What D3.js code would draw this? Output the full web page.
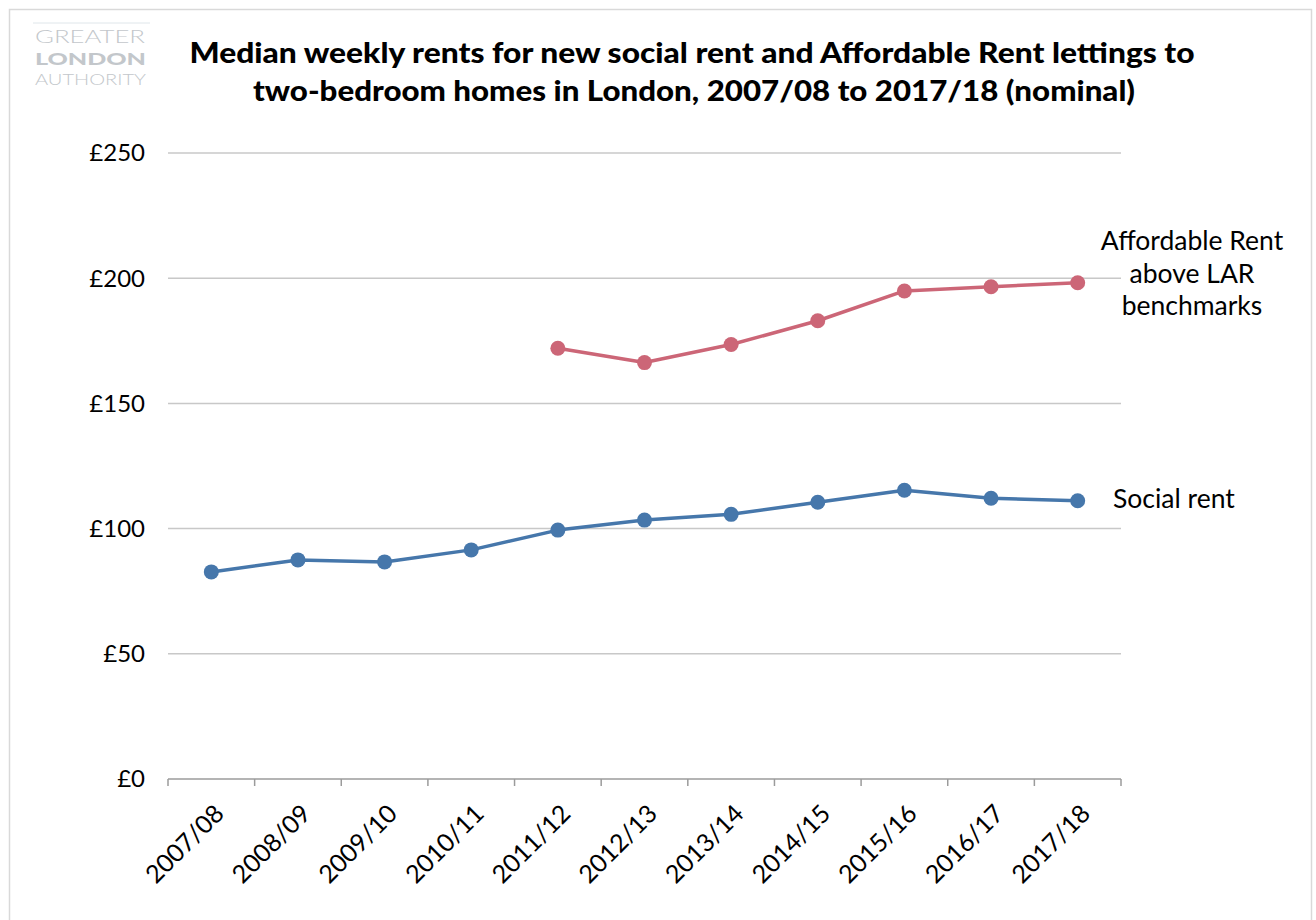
<!DOCTYPE html>
<html>
<head>
<meta charset="utf-8">
<script src="https://cdn.jsdelivr.net/npm/d3@7"></script>
<style>
  body { margin: 0; background: #fff; }
  svg { display: block; }
</style>
</head>
<body>
<svg id="chart"></svg>
<script>
// Median weekly rents, two-bedroom homes, London (nominal)

const YEARS = ["2007/08", "2008/09", "2009/10", "2010/11", "2011/12", "2012/13",
               "2013/14", "2014/15", "2015/16", "2016/17", "2017/18"];
const SOCIAL_RENT = [82.7, 87.5, 86.7, 91.5, 99.4, 103.4, 105.7, 110.5, 115.3, 112.1, 111.1];
const AFFORDABLE_RENT = [null, null, null, null, 172.0, 166.3, 173.5, 183.0, 194.9, 196.6, 198.2];
const Y_TICKS = [0, 50, 100, 150, 200, 250];

const WIDTH = 1316;
const HEIGHT = 920;
const FONT = "Lato, 'Open Sans', sans-serif";

const margin = { left: 168, right: 195, top: 153, bottom: 141 };

const svg = d3.select("#chart")
    .attr("width", WIDTH)
    .attr("height", HEIGHT);

// outer frame
svg.append("rect")
    .attr("x", 9.5).attr("y", 9.5)
    .attr("width", WIDTH - 14).attr("height", HEIGHT)
    .attr("fill", "none")
    .attr("stroke", "#d9d9d9")
    .attr("stroke-width", 1.5);

// logo
const logo = svg.append("g").attr("font-family", FONT).attr("fill", "#c3c7cb");
logo.append("line")
    .attr("x1", 33).attr("x2", 150).attr("y1", 23).attr("y2", 23)
    .attr("stroke", "#dfe6ea").attr("stroke-width", 1);
const logoLines = [
    { text: "GREATER", y: 43, size: 16, weight: 300, len: 110 },
    { text: "LONDON", y: 65, size: 16, weight: 900, len: 111 },
    { text: "AUTHORITY", y: 85, size: 14.5, weight: 300, len: 111 }
];
logoLines.forEach(l => {
    logo.append("text").attr("x", 35).attr("y", l.y)
        .attr("font-size", l.size + "px").attr("font-weight", l.weight)
        .attr("textLength", l.len).attr("lengthAdjust", "spacingAndGlyphs")
        .attr("transform", `translate(0,${l.y}) scale(1,1.1) translate(0,${-l.y})`)
        .text(l.text);
});

// title
const title = svg.append("text")
    .attr("text-anchor", "middle")
    .attr("font-family", FONT)
    .attr("font-weight", 900)
    .attr("font-size", "28px")
    .attr("fill", "#000");
title.append("tspan").attr("x", 692).attr("y", 63)
    .attr("textLength", 1005).attr("lengthAdjust", "spacingAndGlyphs")
    .text("Median weekly rents for new social rent and Affordable Rent lettings to");
title.append("tspan").attr("x", 694).attr("y", 101)
    .attr("textLength", 882).attr("lengthAdjust", "spacingAndGlyphs")
    .text("two-bedroom homes in London, 2007/08  to 2017/18  (nominal)");

const x = d3.scaleBand()
    .domain(YEARS)
    .range([margin.left, WIDTH - margin.right])
    .paddingInner(0)
    .paddingOuter(0);

const y = d3.scaleLinear()
    .domain([0, 250])
    .range([HEIGHT - margin.bottom, margin.top]);

// gridlines
svg.append("g")
    .selectAll("line")
    .data(Y_TICKS.filter(d => d > 0))
    .join("line")
    .attr("x1", margin.left).attr("x2", WIDTH - margin.right)
    .attr("y1", d => y(d)).attr("y2", d => y(d))
    .attr("stroke", "#c8c8c8")
    .attr("stroke-width", 1.5);

// y labels
svg.append("g")
    .selectAll("text")
    .data(Y_TICKS)
    .join("text")
    .attr("x", 145)
    .attr("y", d => y(d))
    .attr("dy", "0.35em")
    .attr("text-anchor", "end")
    .attr("font-family", FONT)
    .attr("font-size", "24px")
    .attr("fill", "#000")
    .text(d => "£" + d);

// x axis with ticks at category boundaries
const axisY = y(0);
const axis = svg.append("g");
axis.append("line")
    .attr("x1", margin.left).attr("x2", WIDTH - margin.right)
    .attr("y1", axisY).attr("y2", axisY)
    .attr("stroke", "#9b9b9b").attr("stroke-width", 1.5);
const bounds = YEARS.map(d => x(d)).concat([x(YEARS[YEARS.length - 1]) + x.bandwidth()]);
axis.selectAll("line.tick")
    .data(bounds)
    .join("line")
    .attr("class", "tick")
    .attr("x1", d => d).attr("x2", d => d)
    .attr("y1", axisY).attr("y2", axisY + 7)
    .attr("stroke", "#9b9b9b").attr("stroke-width", 1.5);

axis.selectAll("text")
    .data(YEARS)
    .join("text")
    .attr("transform", d => `translate(${x(d) + x.bandwidth() / 2 + 8}, ${axisY + 30}) rotate(-45)`)
    .attr("text-anchor", "end")
    .attr("dy", "0.35em")
    .attr("font-family", FONT)
    .attr("font-size", "25px")
    .attr("fill", "#000")
    .text(d => d);

// series
const cx = d => x(d) + x.bandwidth() / 2;
const series = [
    { name: "social", values: SOCIAL_RENT, color: "#4677ab" },
    { name: "affordable", values: AFFORDABLE_RENT, color: "#cc6677" }
];

const line = d3.line()
    .defined(d => d.v != null)
    .x(d => cx(d.year))
    .y(d => y(d.v));

series.forEach(s => {
    const pts = YEARS.map((year, i) => ({ year, v: s.values[i] }));
    svg.append("path")
        .datum(pts)
        .attr("d", line)
        .attr("fill", "none")
        .attr("stroke", s.color)
        .attr("stroke-width", 3.5)
        .attr("stroke-linejoin", "round");
    svg.append("g")
        .selectAll("circle")
        .data(pts.filter(d => d.v != null))
        .join("circle")
        .attr("cx", d => cx(d.year))
        .attr("cy", d => y(d.v))
        .attr("r", 7.5)
        .attr("fill", s.color);
});

// direct labels
svg.append("text")
    .attr("x", 1113)
    .attr("y", 508)
    .attr("font-family", FONT)
    .attr("font-size", "26.5px")
    .text("Social rent");

const arLabel = svg.append("text")
    .attr("text-anchor", "middle")
    .attr("font-family", FONT)
    .attr("font-size", "26.5px");
["Affordable Rent", "above LAR", "benchmarks"].forEach((t, i) => {
    arLabel.append("tspan").attr("x", 1192).attr("y", 250 + i * 32.5).text(t);
});
</script>
</body>
</html>
